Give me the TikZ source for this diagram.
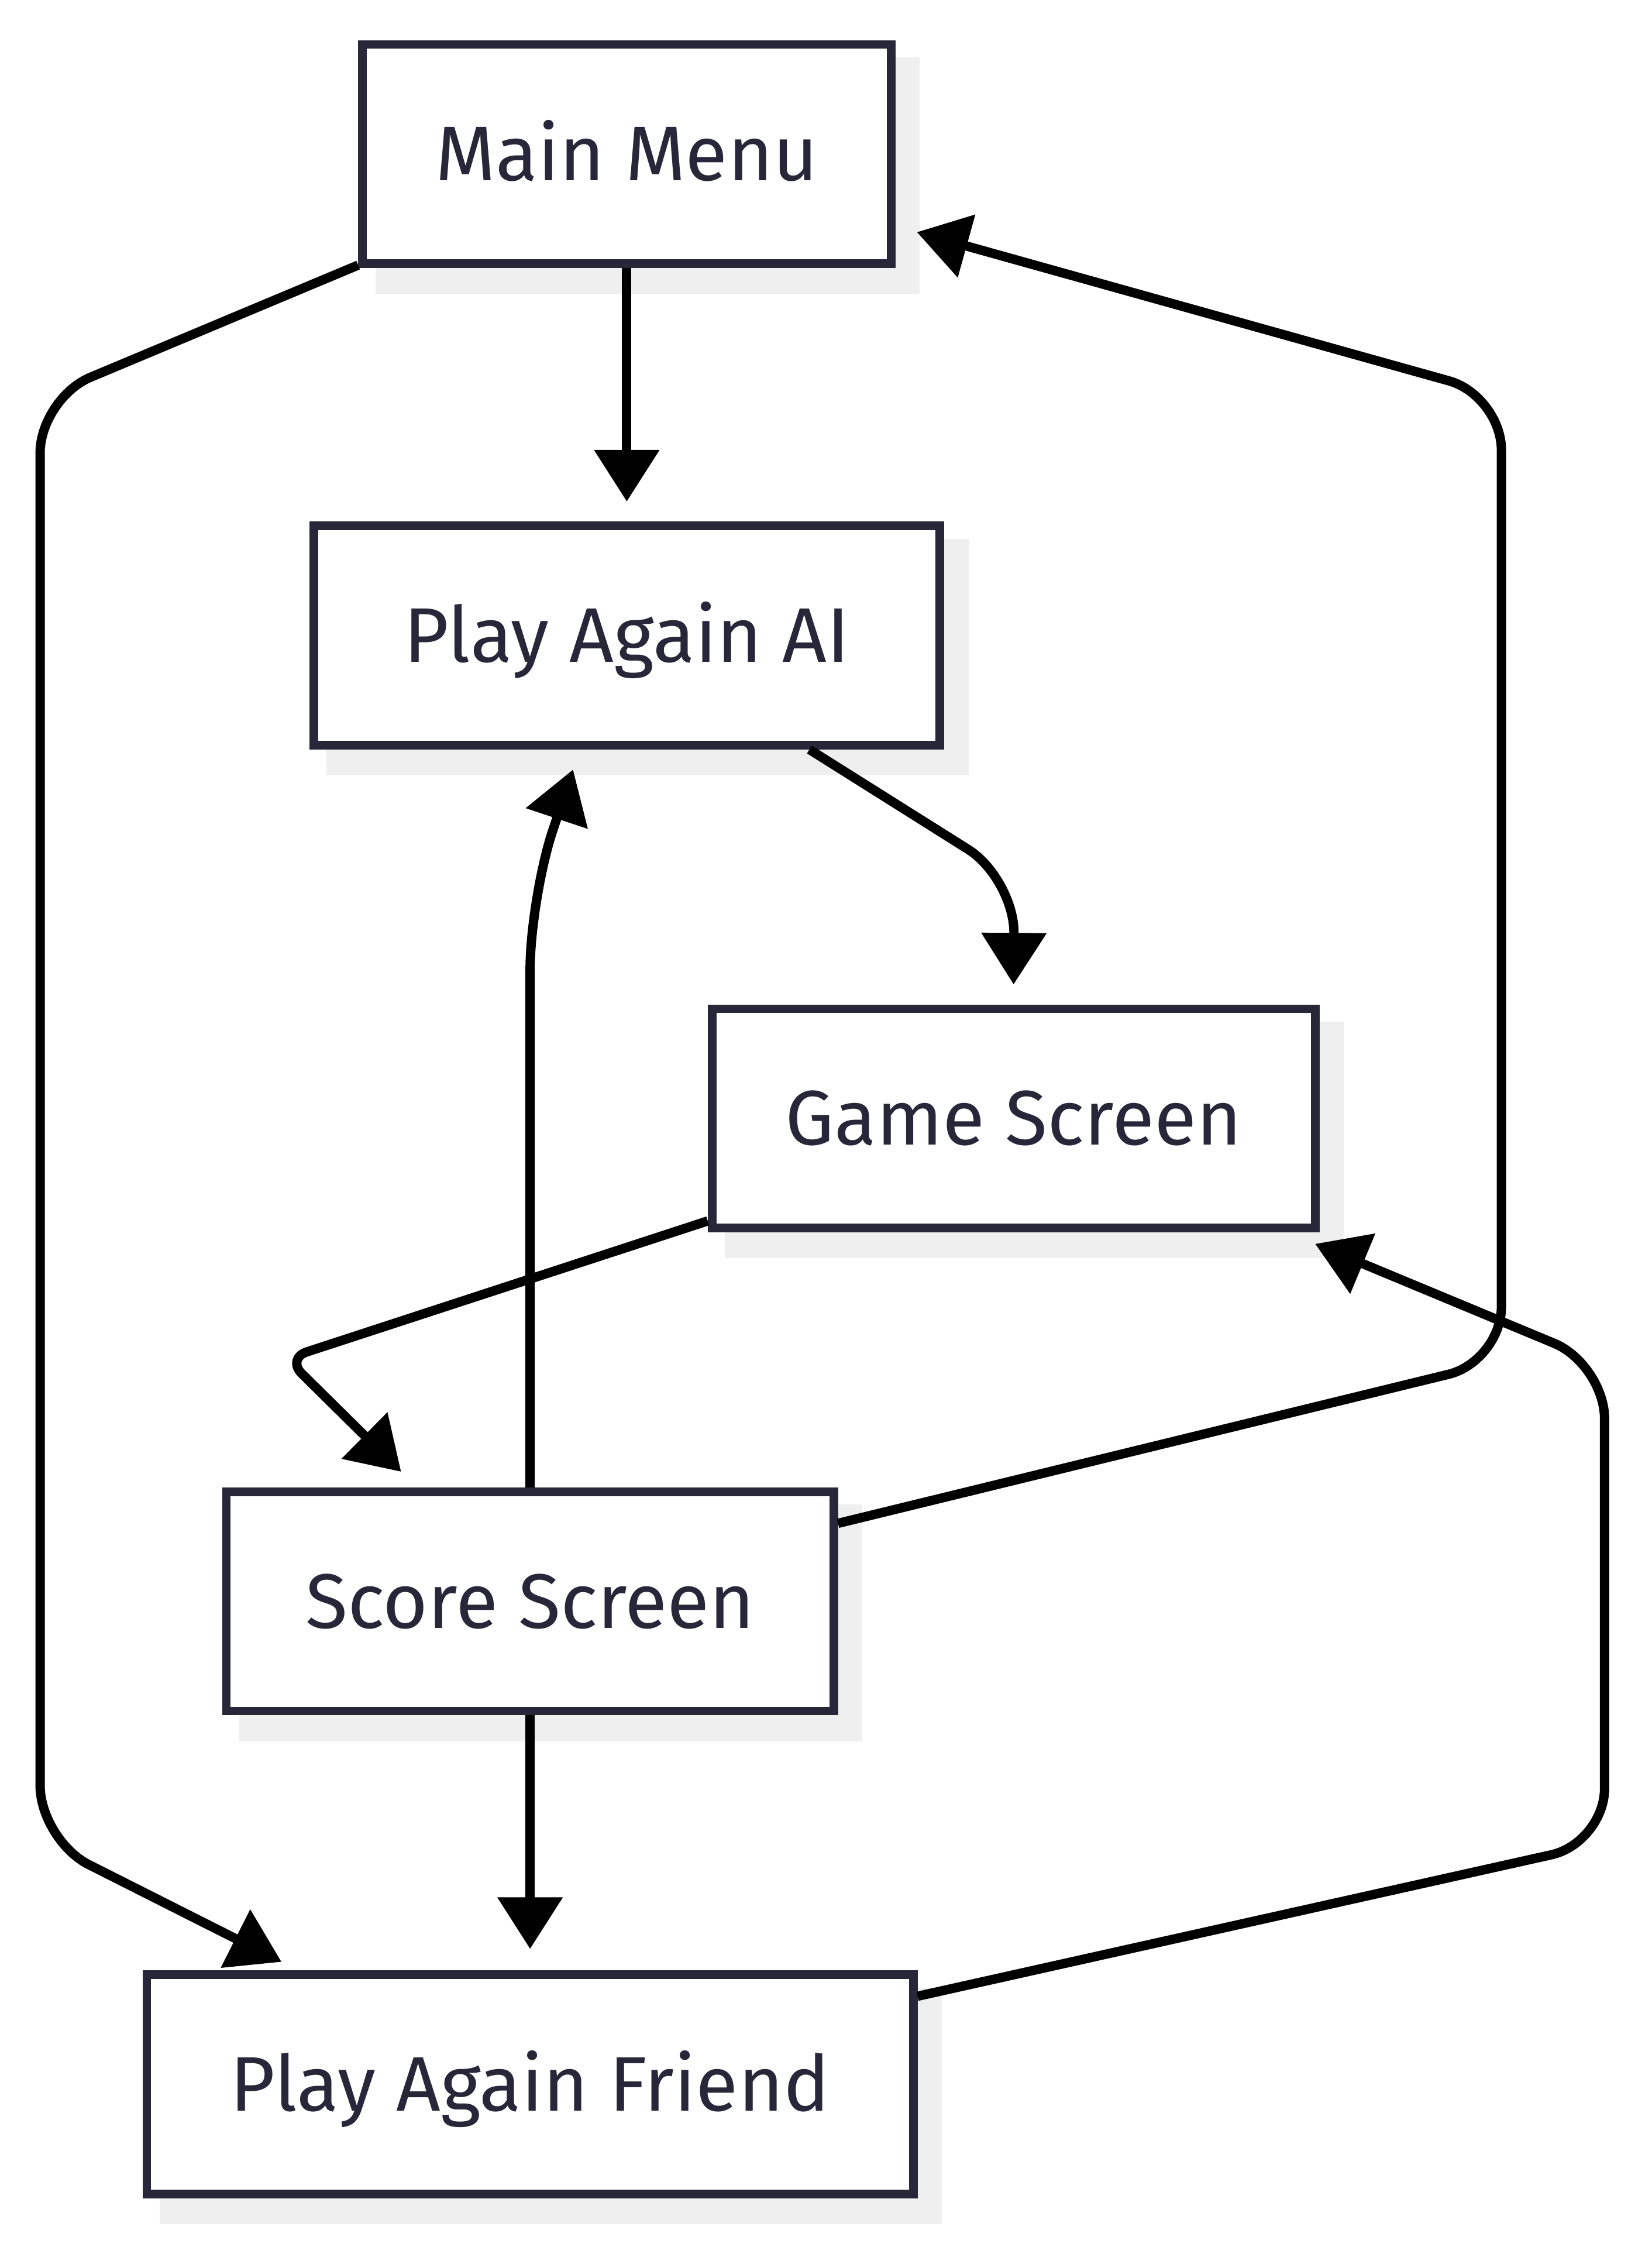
\documentclass[tikz,border=0pt]{standalone}
\usepackage{fontspec}
\setmainfont{Fira Sans}
\usetikzlibrary{arrows.meta,backgrounds}
\definecolor{nodeborder}{HTML}{272739}
\definecolor{shadowgray}{HTML}{EFEFEF}
\begin{document}
\begin{tikzpicture}[x=1pt,y=1pt,
  box/.style={draw=nodeborder, line width=6pt, fill=white, minimum height=153pt,
    text=nodeborder, font=\fontsize{54}{64}\selectfont, text height=37pt, text depth=0pt, inner sep=0pt},
  conn/.style={line width=6.5pt, draw=black, -{Triangle[length=36pt,width=44pt]}, rounded corners=38pt}]
\useasboundingbox (0,0) rectangle (1153,-1568);

\node[box, minimum width=369pt] (mm) at (437.5,-107.5) {Main Menu};
\node[box, minimum width=437pt] (ai) at (437.5,-443.5) {Play Again AI};
\node[box, minimum width=421pt] (gs) at (707.5,-780.5) {Game Screen};
\node[box, minimum width=424pt] (ss) at (370,-1117.5) {Score Screen};
\node[box, minimum width=535pt] (pf) at (370,-1454.5) {Play Again Friend};

\begin{scope}[on background layer]
  \foreach \n in {mm,ai,gs,ss,pf}
    \fill[shadowgray] ([shift={(12pt,-12pt)}]\n.north west) rectangle ([shift={(17pt,-18pt)}]\n.south east);
\end{scope}

% Main Menu -> Play Again AI
\draw[conn] (mm.south) -- ([yshift=14pt]ai.north);
% Play Again AI -> Game Screen
\draw[conn] ([xshift=127.5pt]ai.south) -- (708,-613) -- ([yshift=14pt]gs.north);
% Game Screen -> Score Screen
\draw[conn, rounded corners=15pt] ([yshift=8pt]gs.south west) -- (200,-948) -- ([xshift=-90pt,yshift=11pt]ss.north);
% Score Screen -> Play Again AI
\draw[conn, rounded corners=50pt] (ss.north) -- (370,-627) -- ([xshift=-37.5pt,yshift=-14pt]ai.south);
% Score Screen -> Main Menu
\draw[conn] ([yshift=-25pt]ss.north east) -- (1048,-950) -- (1048,-276) -- ([xshift=15pt,yshift=25pt]mm.south east);
% Score Screen -> Play Again Friend
\draw[conn] (ss.south) -- ([yshift=15pt]pf.north);
% Main Menu -> Play Again Friend
\draw[conn] ([yshift=2pt]mm.south west) -- (28,-278) -- (28,-1284) -- ([xshift=97pt,yshift=6pt]pf.north west);
% Play Again Friend -> Game Screen
\draw[conn] ([yshift=-18pt]pf.north east) -- (1120,-1286) -- (1120,-952) -- ([xshift=-3pt,yshift=-8pt]gs.south east);
\end{tikzpicture}
\end{document}
